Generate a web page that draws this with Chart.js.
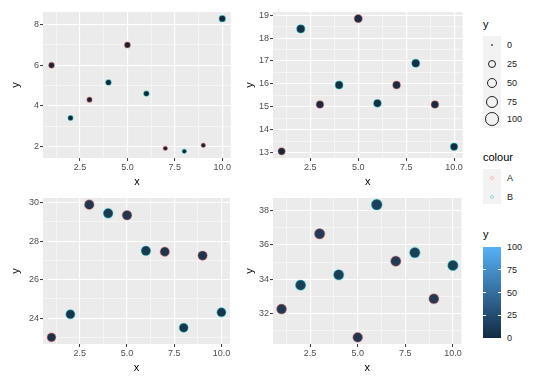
<!DOCTYPE html>
<html>
<head>
<meta charset="utf-8">
<script src="https://cdn.jsdelivr.net/npm/chart.js@4.4.1/dist/chart.umd.min.js"></script>
<style>
body{margin:0;background:#fff;width:540px;height:386px;position:relative;overflow:hidden;font-family:"Liberation Sans",Arial,sans-serif;}
canvas{position:absolute;}
.t{position:absolute;font-size:11px;color:#000;line-height:12px;}
.l{position:absolute;font-size:9px;color:#1a1a1a;line-height:10px;}
.key{position:absolute;background:#F2F2F2;}
.dot{position:absolute;border-radius:50%;box-sizing:border-box;}
</style>
</head>
<body>
<canvas id="p1" width="236" height="190" style="left:0;top:0"></canvas>
<canvas id="p2" width="232" height="190" style="left:236px;top:0"></canvas>
<canvas id="p3" width="236" height="190" style="left:0;top:186px"></canvas>
<canvas id="p4" width="232" height="190" style="left:236px;top:186px"></canvas>
<div id="legend"></div>
<script>
// donnees
const xs = [1, 2, 3, 4, 5, 6, 7, 8, 9, 10];
const groups = ['A', 'B', 'A', 'B', 'A', 'B', 'A', 'B', 'A', 'B'];
const y1 = [6.0, 3.4, 4.3, 5.15, 7.0, 4.6, 1.9, 1.75, 2.05, 8.3];
const y2 = [13.05, 18.4, 15.1, 15.95, 18.85, 15.15, 15.95, 16.9, 15.1, 13.25];
const y3 = [23.0, 24.2, 29.9, 29.45, 29.35, 27.5, 27.45, 23.5, 27.25, 24.3];
const y4 = [32.25, 33.65, 36.65, 34.25, 30.6, 38.35, 35.05, 35.55, 32.85, 34.8];
const xBreaks = [2.5, 5, 7.5, 10];
const yBreaks1 = [2, 4, 6, 8];
const yBreaks2 = [13, 14, 15, 16, 17, 18, 19];
const yBreaks3 = [24, 26, 28, 30];
const yBreaks4 = [32, 34, 36, 38];
const sizeBreaks = [0, 25, 50, 75, 100];
const colourLevels = ['A', 'B'];
const fillBreaks = [0, 25, 50, 75, 100];

const groupColours = {A: '#F8766D', B: '#00BFC4'};
const groupHalo = {A: 'rgba(248,118,109,0.4)', B: 'rgba(0,191,196,0.4)'};
const lowCol = [19, 43, 67], highCol = [86, 177, 247];

function gradCol(v, k) {
	let t = Math.max(0, Math.min(1, v / 100));
	let c = lowCol.map((a, i) => Math.round((a + (highCol[i] - a) * t) * k));
	return 'rgb(' + c.join(',') + ')';
}
function fillFor(v) { return gradCol(v, 1); }
function pointFill(v, g) {
	// le point apparait plus sombre, teinte par le contour
	let base = gradCol(v, 0.72).match(/\d+/g).map(Number);
	let tint = g === 'A' ? [60, 20, 30] : [10, 50, 50];
	return 'rgb(' + base.map((b, i) => Math.round(b * 0.85 + tint[i] * 0.15)).join(',') + ')';
}
function sizeFor(v) {   // comme scale_size : aire proportionnelle
	return 1 + 5 * Math.sqrt(v / 100);
}
function radiusFor(v) { return 1.3 * sizeFor(v); }

function withMinor(br, lo, hi) {
	let step = br[1] - br[0];
	let all = [];
	for (let v = br[0] - step / 2; v <= hi + 1e-9; v += step / 2) {
		let r = Math.round(v * 1000) / 1000;
		if (r >= lo && r <= hi) all.push({value: r, minor: !br.includes(r)});
	}
	return all;
}

const bgPlugin = {
	id: 'panelBg',
	beforeDraw(chart) {
		let a = chart.chartArea, c = chart.ctx;
		c.save();
		c.fillStyle = '#EBEBEB';
		c.fillRect(a.left, a.top, a.right - a.left, a.bottom - a.top);
		c.restore();
	}
};

function axis(breaks, lo, hi, fmt, pos, fitSize, titlePad) {
	return {
		type: 'linear', position: pos, min: lo, max: hi,
		afterBuildTicks: s => { s.ticks = withMinor(breaks, lo, hi); },
		afterFit: s => { if (pos === 'left') s.width = fitSize; else s.height = fitSize; },
		ticks: {
			autoSkip: false, maxRotation: 0, padding: 1,
			color: '#4D4D4D', font: {size: 9, family: '"Liberation Sans", Arial, sans-serif'},
			callback: (v, i, t) => t[i].minor ? '' : fmt(v)
		},
		grid: {
			color: '#FFFFFF',
			lineWidth: c => (c.tick && c.tick.minor) ? 0.5 : 1.1,
			tickColor: c => (c.tick && c.tick.minor) ? 'rgba(0,0,0,0)' : '#333333',
			tickLength: 3, tickWidth: 1
		},
		border: {display: false},
		title: {
			display: true, text: pos === 'left' ? 'y' : 'x', color: '#000',
			font: {size: 11, family: '"Liberation Sans", Arial, sans-serif'},
			padding: titlePad
		}
	};
}

function makePanel(id, ys, yBreaks, yWidth) {
	let lo = Math.min(...ys), hi = Math.max(...ys), r = hi - lo;
	let xlo = Math.min(...xs), xhi = Math.max(...xs), xr = xhi - xlo;
	let pts = xs.map((x, i) => ({x: x, y: ys[i]}));
	new Chart(document.getElementById(id).getContext('2d'), {
		type: 'scatter',
		data: {
			datasets: [{
				data: pts,
				pointBackgroundColor: ys.map((v, i) => pointFill(v, groups[i])),
				pointBorderColor: groups.map(g => groupHalo[g]),
				pointBorderWidth: 1.2,
				pointRadius: ys.map(radiusFor)
			}]
		},
		options: {
			responsive: false, animation: false, events: [],
			layout: {padding: {top: 12, right: 4, left: 0, bottom: 0}},
			plugins: {legend: {display: false}, tooltip: {enabled: false}},
			scales: {
				x: axis(xBreaks, xlo - 0.05 * xr, xhi + 0.05 * xr, v => v.toFixed(1), 'bottom', 32, {top: 0, bottom: 1}),
				y: axis(yBreaks, lo - 0.05 * r, hi + 0.05 * r, v => String(v), 'left', yWidth, {top: yWidth > 40 ? 9 : 7, bottom: 0})
			}
		},
		plugins: [bgPlugin]
	});
}

makePanel('p1', y1, yBreaks1, 43);
makePanel('p2', y2, yBreaks2, 37);
makePanel('p3', y3, yBreaks3, 43);
makePanel('p4', y4, yBreaks4, 37);

// legendes a droite
let lg = document.getElementById('legend');
function add(html) { lg.insertAdjacentHTML('beforeend', html); }
const kx = 483, lx = 507;

add('<div class="t" style="left:' + kx + 'px;top:18px">y</div>');
add('<div class="key" style="left:' + kx + 'px;top:36px;width:18px;height:92px"></div>');
let sizeY = [45, 64, 83, 102, 119];
sizeBreaks.forEach((b, i) => {
	let d = 2 * 1.15 * sizeFor(b);
	add('<div class="dot" style="border:1px solid #222;width:' + d + 'px;height:' + d + 'px;left:' + (492 - d / 2) + 'px;top:' + (sizeY[i] - d / 2) + 'px"></div>');
	add('<div class="l" style="left:' + lx + 'px;top:' + (sizeY[i] - 5) + 'px">' + b + '</div>');
});

add('<div class="t" style="left:' + kx + 'px;top:151px">colour</div>');
add('<div class="key" style="left:' + kx + 'px;top:169px;width:18px;height:35px"></div>');
colourLevels.forEach((g, i) => {
	let cy = 178 + i * 19, d = 4;
	add('<div class="dot" style="border:1px solid ' + groupHalo[g] + ';width:' + d + 'px;height:' + d + 'px;left:' + (492 - d / 2) + 'px;top:' + (cy - d / 2) + 'px"></div>');
	add('<div class="l" style="left:' + lx + 'px;top:' + (cy - 5) + 'px">' + g + '</div>');
});

add('<div class="t" style="left:' + kx + 'px;top:228px">y</div>');
add('<div style="position:absolute;left:' + kx + 'px;top:247px;width:18px;height:91px;background:linear-gradient(to top,' + fillFor(0) + ',' + fillFor(100) + ')"></div>');
fillBreaks.forEach(b => {
	let cy = 338 - b * 0.91;
	if (b > 0 && b < 100) {
		add('<div style="position:absolute;left:' + kx + 'px;top:' + (cy - 0.5) + 'px;width:3px;height:1px;background:#fff"></div>');
		add('<div style="position:absolute;left:' + (kx + 15) + 'px;top:' + (cy - 0.5) + 'px;width:3px;height:1px;background:#fff"></div>');
	}
	add('<div class="l" style="left:' + lx + 'px;top:' + (cy - 5) + 'px">' + b + '</div>');
});
</script>
</body>
</html>
